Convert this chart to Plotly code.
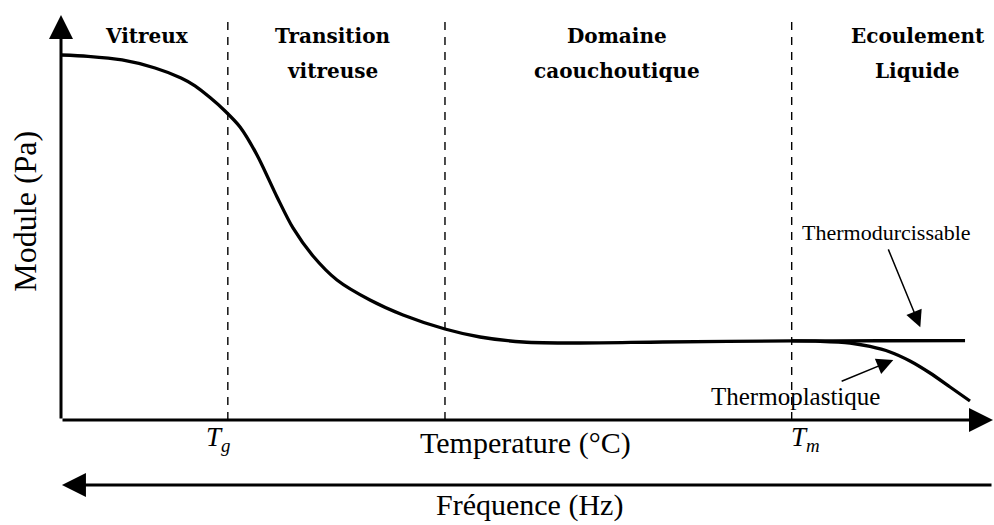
import plotly.graph_objects as go

# Schematic storage-modulus curve (arbitrary units): glassy plateau, glass
# transition, rubbery plateau, then the thermoset plateau up to the end
temp_main = [0.0, 2.90, 6.55, 10.09, 12.88, 14.38, 15.99, 17.60, 19.21, 21.03,
             23.18, 24.89, 27.04, 29.61, 33.15, 36.70, 41.20, 44.96, 49.57,
             55.47, 64.59, 78.43, 87.88, 97.0]
mod_main = [90.12, 89.80, 88.89, 86.91, 84.44, 82.50, 79.60, 76.30, 72.35, 65.43,
            55.06, 47.41, 40.49, 34.57, 29.63, 25.93, 22.47, 20.49, 19.26,
            19.01, 19.26, 19.51, 19.56, 19.58]

# Thermoplastic branch beyond the melting temperature
temp_tp = [78.43, 81.44, 84.66, 86.80, 88.95, 91.09, 93.24, 95.39, 97.53]
mod_tp = [19.51, 19.43, 19.01, 18.15, 16.79, 14.57, 11.60, 8.15, 4.69]

# Transition temperatures (Tg, end of transition, Tm)
transitions = [17.9, 41.2, 78.4]

region_titles = [("Vitreux",), ("Transition", "vitreuse"),
                 ("Domaine", "caouchoutique"), ("Ecoulement", "Liquide")]
region_centers = [9.2, 29.1, 59.7, 91.9]

SERIF = "Liberation Serif"
BOLD = "DejaVu Serif"

fig = go.Figure()
fig.add_trace(go.Scatter(x=temp_main, y=mod_main, mode="lines",
                         line=dict(color="black", width=3.3, shape="spline", smoothing=0.8),
                         hoverinfo="skip", showlegend=False))
fig.add_trace(go.Scatter(x=temp_tp, y=mod_tp, mode="lines",
                         line=dict(color="black", width=3.3, shape="spline", smoothing=0.8),
                         hoverinfo="skip", showlegend=False))

shapes = []
for t in transitions:
    shapes.append(dict(type="line", xref="x", yref="y", x0=t, x1=t, y0=0, y1=99.5,
                       line=dict(color="black", width=1.4, dash="8px,7px")))

annotations = []


def arrow(x0, y0, x1, y1, width, size):
    annotations.append(dict(x=x1, y=y1, ax=x0, ay=y0, xref="x", yref="y",
                            axref="x", ayref="y", text="", showarrow=True,
                            arrowhead=2, arrowsize=size, arrowwidth=width,
                            arrowcolor="black", standoff=0, startstandoff=0))


def label(x, y, text, size, family=SERIF, angle=0):
    annotations.append(dict(x=x, y=y, xref="x", yref="y", text=text, showarrow=False,
                            textangle=angle, xanchor="center", yanchor="middle",
                            font=dict(family=family, size=size, color="black")))


# Axes with arrow tips
arrow(0, 0, 100, 0, 3, 1.6)
arrow(0, 0, 0, 100, 3, 1.6)
# Frequency direction (opposite to temperature)
arrow(100, -16.05, 0.1, -16.05, 3, 1.6)

# Region titles
for cx, lines in zip(region_centers, region_titles):
    for i, line in enumerate(lines):
        label(cx, 94.8 - 8.6 * i, "<b>%s</b>" % line, 20, BOLD)

# Axis labels
label(49.8, -5.7, "Temperature (°C)", 30)
label(50.3, -21.0, "Fréquence (Hz)", 30)
label(-3.9, 51.6, "Module (Pa)", 32, angle=-90)
label(16.8, -4.6, "<i>T</i><sub><i>g</i></sub>", 27)
label(79.9, -4.6, "<i>T</i><sub><i>m</i></sub>", 27)

# Material annotations
label(88.6, 46.2, "Thermodurcissable", 22)
arrow(88.7, 42.5, 92.2, 22.9, 1.5, 2.2)
label(78.8, 5.7, "Thermoplastique", 25)
arrow(83.6, 9.4, 89.3, 14.8, 1.5, 2.2)

fig.update_layout(
    width=994, height=525,
    margin=dict(l=0, r=0, t=0, b=0),
    paper_bgcolor="white", plot_bgcolor="white",
    xaxis=dict(range=[-6.545, 100.107], visible=False, fixedrange=True),
    yaxis=dict(range=[-25.93, 103.70], visible=False, fixedrange=True),
    shapes=shapes, annotations=annotations, showlegend=False,
)

fig.write_html("out.html")
